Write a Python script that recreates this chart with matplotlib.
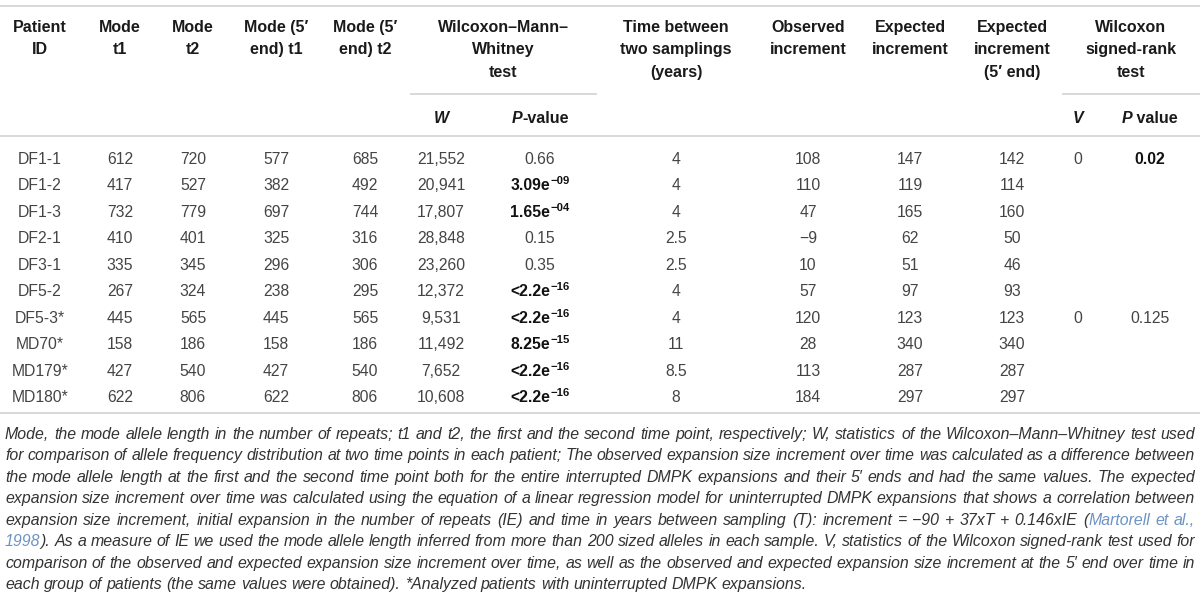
import re
import matplotlib
matplotlib.use("Agg")
import matplotlib.pyplot as plt

plt.rcParams['font.family'] = ['Liberation Sans', 'DejaVu Sans']

# table data
patient_ids = ["DF1-1", "DF1-2", "DF1-3", "DF2-1", "DF3-1", "DF5-2", "DF5-3*", "MD70*", "MD179*", "MD180*"]
mode_t1 = [612, 417, 732, 410, 335, 267, 445, 158, 427, 622]
mode_t2 = [720, 527, 779, 401, 345, 324, 565, 186, 540, 806]
mode5_t1 = [577, 382, 697, 325, 296, 238, 445, 158, 427, 622]
mode5_t2 = [685, 492, 744, 316, 306, 295, 565, 186, 540, 806]
wmw_w = ["21,552", "20,941", "17,807", "28,848", "23,260", "12,372", "9,531", "11,492", "7,652", "10,608"]
# p-values: (base, exponent, bold)
wmw_p = [("0.66", "", False), ("3.09e", "\u221209", True), ("1.65e", "\u221204", True),
         ("0.15", "", False), ("0.35", "", False), ("<2.2e", "\u221216", True),
         ("<2.2e", "\u221216", True), ("8.25e", "\u221215", True), ("<2.2e", "\u221216", True),
         ("<2.2e", "\u221216", True)]
years = ["4", "4", "4", "2.5", "2.5", "4", "4", "11", "8.5", "8"]
observed = ["108", "110", "47", "\u22129", "10", "57", "120", "28", "113", "184"]
expected = [147, 119, 165, 62, 51, 97, 123, 340, 287, 297]
expected5 = [142, 114, 160, 50, 46, 93, 123, 340, 287, 297]
sr_v = ["0", "", "", "", "", "", "0", "", "", ""]
sr_p = [("0.02", True), ("", False), ("", False), ("", False), ("", False), ("", False),
        ("0.125", False), ("", False), ("", False), ("", False)]

headers = ["Patient\nID", "Mode\nt1", "Mode\nt2", "Mode (5\u2032\nend) t1", "Mode (5\u2032\nend) t2",
           "Time between\ntwo samplings\n(years)", "Observed\nincrement", "Expected\nincrement",
           "Expected\nincrement\n(5\u2032 end)"]
group_headers = ["Wilcoxon\u2013Mann\u2013\nWhitney\ntest", "Wilcoxon\nsigned-rank\ntest"]

caption_lines = [
    "Mode, the mode allele length in the number of repeats; t1 and t2, the first and the second time point, respectively; W, statistics of the Wilcoxon\u2013Mann\u2013Whitney test used",
    "for comparison of allele frequency distribution at two time points in each patient; The observed expansion size increment over time was calculated as a difference between",
    "the mode allele length at the first and the second time point both for the entire interrupted DMPK expansions and their 5\u2032 ends and had the same values. The expected",
    "expansion size increment over time was calculated using the equation of a linear regression model for uninterrupted DMPK expansions that shows a correlation between",
    "expansion size increment, initial expansion in the number of repeats (IE) and time in years between sampling (T): increment = \u221290 + 37xT + 0.146xIE ([[Martorell]] [[et]] [[al.,]]",
    "[[1998]]). As a measure of IE we used the mode allele length inferred from more than 200 sized alleles in each sample. V, statistics of the Wilcoxon signed-rank test used for",
    "comparison of the observed and expected expansion size increment over time, as well as the observed and expected expansion size increment at the 5\u2032 end over time in",
    "each group of patients (the same values were obtained). *Analyzed patients with uninterrupted DMPK expansions.",
]

W, H = 1200, 595
fig = plt.figure(figsize=(W / 100, H / 100), dpi=100)
ax = fig.add_axes([0, 0, 1, 1])
ax.set_xlim(0, W)
ax.set_ylim(H, 0)
ax.axis("off")
renderer = fig.canvas.get_renderer()

FS = 11.5      # header
DFS = 11.3     # data cells
CAP_FS = 11.4
BL = 5.6       # centre -> baseline offset, px
HEAD_COL = "#1a1a1a"
DATA_COL = "#444444"
RULE_COL = "#d6d6d6"

col_x = [40, 120, 193, 276, 365, 676, 808, 910, 1012]
w_x, p_x = 441, 540
v_x, pv_x = 1078, 1150
row_y0, row_dy = 158, 26.5
line_y = [26, 48.5, 71]

# rules
for y, x0, x1 in [(6, 0, W), (94, 410, 597), (94, 1062, W), (136, 0, W), (413, 0, W)]:
    ax.plot([x0, x1], [y, y], color=RULE_COL, lw=1.3, solid_capstyle="butt")

# header
for x, h in zip(col_x + [503, 1131], headers + group_headers):
    for k, part in enumerate(h.split("\n")):
        ax.text(x, line_y[k] + BL, part, ha="center", va="baseline", fontsize=FS,
                fontweight="bold", color=HEAD_COL)


def mixed(x, y, pieces, ha="center"):
    # pieces: list of (text, style dict); placed side by side on one baseline
    objs, widths = [], []
    for txt, st in pieces:
        t = ax.text(0, y + BL + st.get("dy", 0), txt, ha="left", va="baseline",
                    fontsize=st.get("size", DFS), fontweight=st.get("weight", "normal"),
                    fontstyle=st.get("style", "normal"), color=st.get("color", DATA_COL))
        objs.append(t)
        widths.append(t.get_window_extent(renderer).width)
    total = sum(widths)
    x0 = x - total / 2 if ha == "center" else x
    for t, w in zip(objs, widths):
        t.set_x(x0)
        x0 += w


def cell(x, y, s, bold=False):
    ax.text(x, y + BL, s, ha="center", va="baseline", fontsize=DFS,
            fontweight="bold" if bold else "normal",
            color="#111111" if bold else DATA_COL)


hb = {"weight": "bold", "style": "italic", "color": HEAD_COL, "size": FS}
hn = {"weight": "bold", "color": HEAD_COL, "size": FS}
mixed(w_x, 117, [("W", hb)])
mixed(p_x, 117, [("P", hb), ("-value", hn)])
mixed(v_x, 117, [("V", hb)])
mixed(pv_x, 117, [("P", hb), (" value", hn)])

# data rows
for i in range(len(patient_ids)):
    y = row_y0 + i * row_dy
    vals = [patient_ids[i], mode_t1[i], mode_t2[i], mode5_t1[i], mode5_t2[i],
            years[i], observed[i], expected[i], expected5[i]]
    for x, v in zip(col_x, vals):
        cell(x, y, str(v))
    cell(w_x, y, wmw_w[i])
    base, exp, bold = wmw_p[i]
    if bold:
        st = {"weight": "bold", "color": "#111111"}
        mixed(p_x, y, [(base, st), (exp, dict(st, size=DFS * 0.72, dy=-6))])
    else:
        cell(p_x, y, base)
    cell(v_x, y, sr_v[i])
    cell(pv_x, y, sr_p[i][0], sr_p[i][1])

# caption, justified
cap_x0, cap_x1 = 5, 1195
cap_y0, cap_dy = 433, 21.5
CAP_COL = "#333333"
LINK_COL = "#6b93c4"
for li, line in enumerate(caption_lines):
    y = cap_y0 + li * cap_dy + BL
    words = []
    for tok in line.split(" "):
        segs = []
        for part in re.split(r"(\[\[.*?\]\])", tok):
            if not part:
                continue
            if part.startswith("[["):
                segs.append((part[2:-2], LINK_COL))
            else:
                segs.append((part, CAP_COL))
        objs = []
        w = 0
        for s, c in segs:
            t = ax.text(0, y, s, ha="left", va="baseline", fontsize=CAP_FS,
                        fontstyle="italic", color=c)
            ww = t.get_window_extent(renderer).width
            objs.append((t, ww))
            w += ww
        words.append((objs, w))
    total = sum(w for _, w in words)
    if li < len(caption_lines) - 1:
        gap = (cap_x1 - cap_x0 - total) / (len(words) - 1)
    else:
        gap = 4.2
    x = cap_x0
    for objs, w in words:
        xx = x
        for t, ww in objs:
            t.set_x(xx)
            xx += ww
        x += w + gap

fig.savefig("out.png", dpi=100)
